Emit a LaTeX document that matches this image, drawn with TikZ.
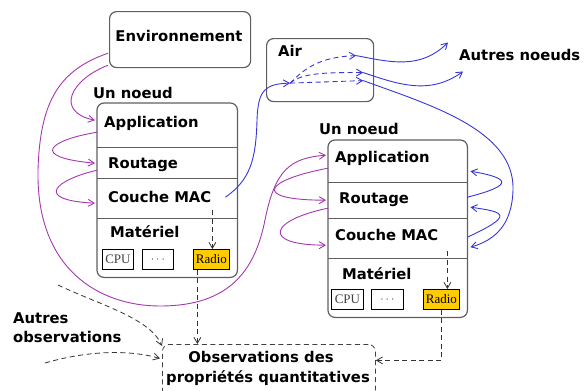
\documentclass[tikz,border=0pt]{standalone}
\usepackage{fontspec}
\setsansfont{DejaVu Sans}
\newfontfamily\tnr{Liberation Serif}
\usetikzlibrary{arrows.meta,calc,fit}
\definecolor{mg}{RGB}{165,55,175}
\definecolor{bl}{RGB}{55,55,215}
\definecolor{bx}{RGB}{95,95,95}
\definecolor{radioc}{RGB}{255,204,0}
\begin{document}
\begin{tikzpicture}[x=1pt,y=-1pt,
  lbl/.style={font=\sffamily\bfseries\fontsize{14.8}{18}\selectfont, inner sep=0, anchor=base west},
  roundbox/.style={draw=bx, line width=1.2pt, rounded corners=7pt, inner sep=0},
  layer/.style={inner sep=0, anchor=north west, minimum width=140pt},
  divider/.style={draw=bx, line width=1.2pt},
  hw/.style={draw=black, line width=0.8pt, fill=white, inner sep=0, anchor=north west,
    minimum width=32pt, minimum height=20pt, font=\tnr\fontsize{13}{15}\selectfont, text=black!75},
  tip/.style={-{Straight Barb[length=6pt,width=7pt]}},
  mgarrow/.style={draw=mg, line width=0.9pt, tip},
  blarrow/.style={draw=bl, line width=0.9pt, tip},
  dsh/.style={dash pattern=on 5pt off 3.5pt},
  obsarrow/.style={draw=black!80, line width=0.8pt, dsh, tip}
]
\useasboundingbox (0,0) rectangle (584,391);

% Environnement
\node[roundbox, minimum width=141pt, minimum height=56pt, anchor=north west] (env) at (109,11) {};
\node[lbl, anchor=base] (envt) at (179,41) {Environnement};

% Air
\node[roundbox, minimum width=107pt, minimum height=63pt, anchor=north west] (air) at (266,38) {};
\node[lbl] (airt) at (278,56) {Air};
\node[lbl] (an) at (459,60) {Autres noeuds};

% Left node
\node[lbl] (lun) at (93,98) {Un noeud};
\node[layer, minimum height=44pt] (lA) at (97,103) {};
\node[layer, minimum height=31pt] (lR) at (97,147) {};
\node[layer, minimum height=40pt] (lM) at (97,178) {};
\node[layer, minimum height=59pt] (lH) at (97,218) {};
\node[roundbox, fit=(lA)(lH)] (lbox) {};
\draw[divider] (lA.south west) -- (lA.south east);
\draw[divider] (lR.south west) -- (lR.south east);
\draw[divider] (lM.south west) -- (lM.south east);
\node[lbl] (lAt) at (104,127) {Application};
\node[lbl] (lRt) at (108,168) {Routage};
\node[lbl] (lMt) at (108,202) {Couche MAC};
\node[lbl] (lHt) at (110,237) {Matériel};
\node[hw, minimum width=31pt] (lcpu) at (102,249) {CPU};
\node[hw, minimum width=31pt] (ldots) at (142,249) {$\cdots$};
\node[hw, fill=radioc, minimum width=36pt, text=black] (lrad) at (193,249) {Radio};

% Right node
\node[lbl] (run) at (319,134) {Un noeud};
\node[layer, minimum width=139pt, minimum height=42pt] (rA) at (328,140) {};
\node[layer, minimum width=139pt, minimum height=36pt] (rR) at (328,182) {};
\node[layer, minimum width=139pt, minimum height=40pt] (rM) at (328,218) {};
\node[layer, minimum width=139pt, minimum height=59pt] (rH) at (328,258) {};
\node[roundbox, fit=(rA)(rH)] (rbox) {};
\draw[divider] (rA.south west) -- (rA.south east);
\draw[divider] (rR.south west) -- (rR.south east);
\draw[divider] (rM.south west) -- (rM.south east);
\node[lbl] (rAt) at (335,162) {Application};
\node[lbl] (rRt) at (339,203) {Routage};
\node[lbl] (rMt) at (335,240) {Couche MAC};
\node[lbl] (rHt) at (342,279) {Matériel};
\node[hw] (rcpu) at (331,289) {CPU};
\node[hw] (rdots) at (371,289) {$\cdots$};
\node[hw, fill=radioc, minimum width=36pt, text=black] (rrad) at (423,289) {Radio};

% Observations
\node[roundbox, draw=black!75, line width=0.8pt, dsh, minimum width=213pt, minimum height=52pt, anchor=north west] (obs) at (162,344) {};
\node[lbl, anchor=base] (obs1) at (261,362) {Observations des};
\node[lbl, anchor=base] (obs2) at (268,382) {propriétés quantitatives};
\node[lbl] (ao1) at (13,323) {Autres};
\node[lbl] (ao2) at (13,342) {observations};

% Magenta connectors
\draw[mgarrow] ($(env.south west)+(-1,-15)$) .. controls (60,70) and (40,100) .. (38,170)
  .. controls (36,270) and (100,306) .. (160,306)
  .. controls (230,306) and (255,270) .. (265,220)
  .. controls (275,170) and (290,158) .. ($(rA.west)+(-2,-6)$);
\draw[mgarrow] ($(env.south west)+(-1,-3)$) .. controls (70,80) and (55,112) .. ($(lA.west)+(-2,-5)$);
\draw[mgarrow] ($(lA.west)+(0,7)$) .. controls (50,140) and (28,157) .. ($(lR.west)+(-2,0.5)$);
\draw[mgarrow] ($(lR.west)+(0,7.5)$) .. controls (55,180) and (33,200) .. ($(lM.west)+(-2,5)$);
\draw[mgarrow] ($(rA.west)+(0,7)$) .. controls (265,180) and (250,200) .. ($(rR.west)+(-2,0)$);
\draw[mgarrow] ($(rR.west)+(0,8)$) .. controls (270,220) and (260,245) .. ($(rM.west)+(-2,7)$);

% Blue connectors
\coordinate (hub) at ($(air.center)+(-30,13)$);
\coordinate (o1) at ($(air.east)+(-18,-14.5)$);
\coordinate (o2) at ($(air.east)+(-11,2.5)$);
\coordinate (o3) at ($(air.east)+(-11,10.5)$);
\draw[blarrow] ($(lM.east)+(-12,-1)$) .. controls (250,180) and (256,160) .. (257,120)
  .. controls (258,90) and (265,84) .. (hub);
\draw[blarrow, dsh] (hub) .. controls (305,68) and (320,57) .. (o1);
\draw[blarrow, dsh] (hub) .. controls (300,75) and (315,72) .. (o2);
\draw[blarrow, dsh] (hub) -- (o3);
\draw[blarrow] (o1) .. controls (390,62) and (420,70) .. ($(an.west)+(-11,-12)$);
\draw[blarrow] (o2) .. controls (400,85) and (430,95) .. ($(an.west)+(4,17)$);
\draw[blarrow] (o3) .. controls (430,105) and (515,130) .. (513,190)
  .. controls (512,225) and (495,240) .. ($(rM.east)+(3,9)$);
\draw[blarrow] ($(rR.east)+(0,-3)$) .. controls (515,185) and (510,178) .. ($(rA.east)+(3,10)$);
\draw[blarrow] ($(rM.east)+(0,-1)$) .. controls (515,215) and (505,212) .. ($(rR.east)+(3,7)$);

% Dashed observation connectors
\coordinate (d1s) at ($(lrad.north)+(1,-39)$);
\coordinate (d1e) at ($(lrad.north)+(1,0)$);
\coordinate (d2s) at ($(lrad.south)+(-14,0)$);
\coordinate (d3s) at ($(rrad.north)+(6,-38)$);
\coordinate (d3e) at ($(rrad.north)+(6,0)$);
\coordinate (d4e) at ($(obs.east)+(0,-10)$);
\draw[obsarrow] (d1s) -- (d1e);
\draw[obsarrow] (d2s) -- (d2s |- obs.north);
\draw[obsarrow] (d3s) -- (d3e);
\draw[obsarrow] (rrad.south) |- (d4e);
\coordinate (s1) at (58,285);
\coordinate (s2) at (45,363);
\draw[obsarrow] (s1) .. controls (100,305) and (150,318) .. ($(obs.north west)+(0,2)$);
\draw[obsarrow] (s2) .. controls (90,350) and (130,350) .. ($(obs.west)+(-2,-12)$);
\end{tikzpicture}
\end{document}
